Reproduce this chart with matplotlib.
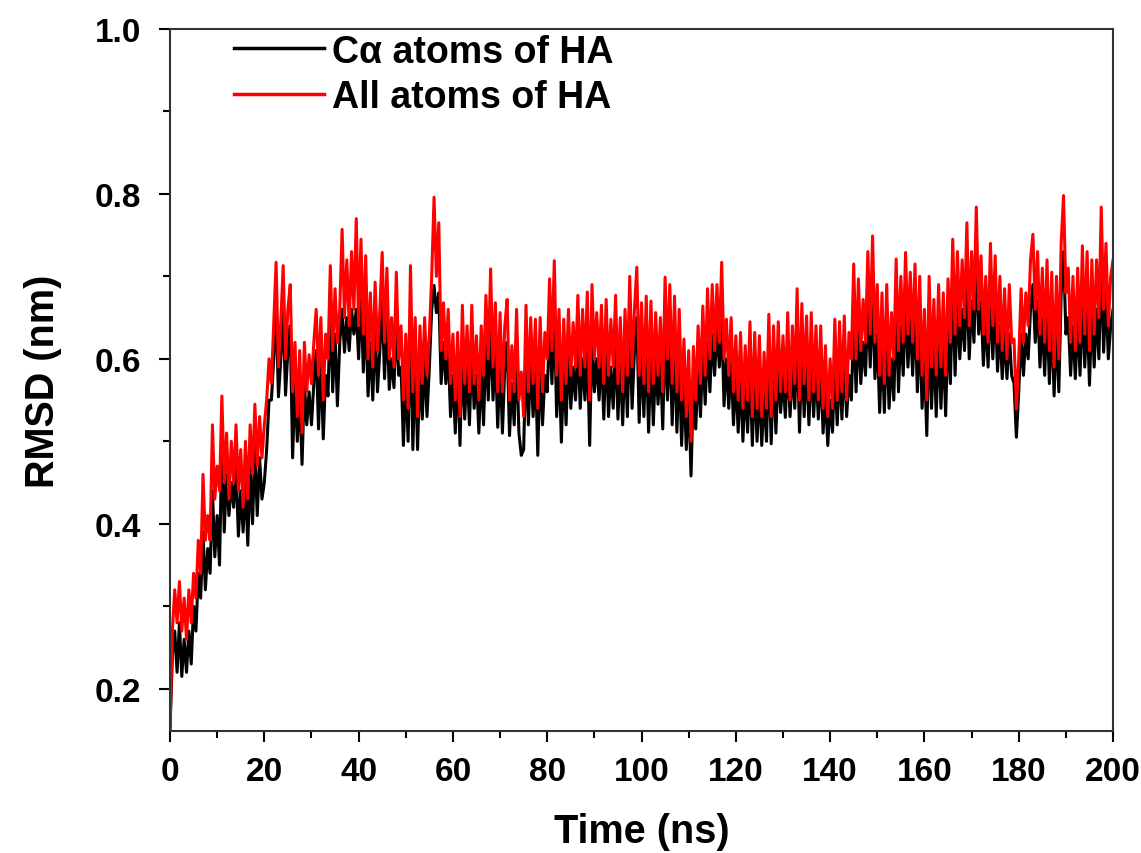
import matplotlib
matplotlib.use("Agg")
import matplotlib.pyplot as plt
from matplotlib.ticker import MultipleLocator
import numpy as np

plt.rcParams['font.family'] = ['Liberation Sans', 'DejaVu Sans']
plt.rcParams['font.weight'] = 'bold'

rmsd_all = [
    0.15, 0.27, 0.32, 0.28, 0.33, 0.27, 0.31, 0.26, 0.32, 0.28, 0.34, 0.31, 0.38, 0.34, 0.46, 0.38, 0.41, 0.38, 0.52, 0.43,
    0.47, 0.44, 0.555, 0.45, 0.51, 0.43, 0.50, 0.45, 0.52, 0.44, 0.49, 0.42, 0.50, 0.43, 0.52, 0.46, 0.545, 0.47, 0.53, 0.48,
    0.52, 0.55, 0.60, 0.57, 0.645, 0.717, 0.59, 0.645, 0.713, 0.60, 0.66, 0.69, 0.56, 0.62, 0.53, 0.61, 0.51, 0.62, 0.56, 0.605,
    0.57, 0.62, 0.66, 0.58, 0.65, 0.55, 0.63, 0.60, 0.713, 0.61, 0.685, 0.62, 0.66, 0.757, 0.65, 0.72, 0.64, 0.73, 0.66, 0.77,
    0.64, 0.745, 0.63, 0.725, 0.60, 0.68, 0.59, 0.693, 0.61, 0.66, 0.729, 0.62, 0.71, 0.60, 0.65, 0.59, 0.705, 0.60, 0.64, 0.55,
    0.63, 0.54, 0.713, 0.56, 0.65, 0.53, 0.64, 0.57, 0.65, 0.58, 0.63, 0.70, 0.796, 0.70, 0.765, 0.61, 0.668, 0.60, 0.66, 0.57,
    0.63, 0.55, 0.632, 0.53, 0.665, 0.57, 0.64, 0.56, 0.665, 0.57, 0.628, 0.55, 0.64, 0.58, 0.677, 0.60, 0.709, 0.59, 0.668, 0.56,
    0.656, 0.56, 0.64, 0.672, 0.55, 0.616, 0.56, 0.66, 0.55, 0.584, 0.53, 0.665, 0.56, 0.65, 0.57, 0.648, 0.54, 0.65, 0.56, 0.632,
    0.60, 0.697, 0.61, 0.719, 0.58, 0.66, 0.55, 0.648, 0.57, 0.66, 0.58, 0.644, 0.59, 0.677, 0.58, 0.66, 0.59, 0.681, 0.55, 0.69,
    0.60, 0.656, 0.59, 0.665, 0.57, 0.672, 0.58, 0.648, 0.59, 0.677, 0.57, 0.65, 0.56, 0.66, 0.58, 0.70, 0.59, 0.66, 0.711, 0.58,
    0.668, 0.57, 0.676, 0.56, 0.67, 0.57, 0.656, 0.58, 0.65, 0.56, 0.699, 0.60, 0.69, 0.57, 0.676, 0.56, 0.66, 0.55, 0.624, 0.53,
    0.61, 0.50, 0.615, 0.55, 0.64, 0.57, 0.664, 0.58, 0.685, 0.60, 0.69, 0.61, 0.69, 0.62, 0.717, 0.60, 0.648, 0.58, 0.65, 0.56,
    0.628, 0.55, 0.632, 0.54, 0.616, 0.55, 0.645, 0.53, 0.632, 0.54, 0.628, 0.53, 0.608, 0.54, 0.654, 0.53, 0.64, 0.55, 0.645, 0.56,
    0.628, 0.56, 0.656, 0.55, 0.64, 0.57, 0.685, 0.55, 0.667, 0.57, 0.652, 0.55, 0.656, 0.56, 0.64, 0.55, 0.64, 0.54, 0.616, 0.53,
    0.60, 0.54, 0.648, 0.55, 0.645, 0.56, 0.652, 0.55, 0.632, 0.60, 0.715, 0.60, 0.697, 0.61, 0.672, 0.62, 0.73, 0.63, 0.749, 0.62,
    0.69, 0.58, 0.68, 0.57, 0.69, 0.58, 0.656, 0.60, 0.721, 0.61, 0.70, 0.62, 0.729, 0.63, 0.705, 0.62, 0.715, 0.60, 0.70, 0.58,
    0.66, 0.55, 0.70, 0.59, 0.672, 0.58, 0.69, 0.59, 0.68, 0.58, 0.697, 0.62, 0.745, 0.63, 0.73, 0.64, 0.72, 0.65, 0.765, 0.64,
    0.73, 0.66, 0.784, 0.66, 0.725, 0.63, 0.70, 0.62, 0.74, 0.64, 0.725, 0.62, 0.70, 0.61, 0.685, 0.60, 0.69, 0.62, 0.624, 0.539,
    0.60, 0.685, 0.62, 0.68, 0.64, 0.72, 0.751, 0.66, 0.73, 0.63, 0.71, 0.62, 0.72, 0.61, 0.705, 0.59, 0.70, 0.60, 0.74, 0.798,
    0.68, 0.71, 0.62, 0.70, 0.61, 0.71, 0.62, 0.737, 0.63, 0.73, 0.61, 0.72, 0.63, 0.72, 0.65, 0.784, 0.66, 0.74, 0.64, 0.70, 0.72,
]

rmsd_ca = [
    0.15, 0.24, 0.27, 0.22, 0.28, 0.215, 0.26, 0.22, 0.27, 0.23, 0.30, 0.27, 0.34, 0.31, 0.39, 0.32, 0.37, 0.34, 0.44, 0.36,
    0.41, 0.35, 0.50, 0.39, 0.46, 0.41, 0.45, 0.42, 0.47, 0.385, 0.44, 0.39, 0.45, 0.374, 0.47, 0.40, 0.49, 0.41, 0.48, 0.43,
    0.45, 0.49, 0.55, 0.55, 0.60, 0.66, 0.554, 0.60, 0.66, 0.556, 0.61, 0.64, 0.48, 0.57, 0.50, 0.56, 0.472, 0.57, 0.52, 0.56,
    0.52, 0.57, 0.61, 0.515, 0.60, 0.503, 0.58, 0.555, 0.66, 0.56, 0.63, 0.543, 0.62, 0.66, 0.608, 0.65, 0.61, 0.66, 0.63, 0.66,
    0.60, 0.68, 0.584, 0.66, 0.555, 0.62, 0.55, 0.64, 0.56, 0.61, 0.67, 0.576, 0.65, 0.563, 0.60, 0.565, 0.65, 0.58, 0.59, 0.495,
    0.58, 0.50, 0.65, 0.49, 0.60, 0.49, 0.59, 0.527, 0.60, 0.53, 0.59, 0.66, 0.689, 0.656, 0.68, 0.57, 0.62, 0.57, 0.61, 0.53,
    0.58, 0.51, 0.59, 0.495, 0.61, 0.527, 0.59, 0.52, 0.61, 0.54, 0.58, 0.51, 0.59, 0.52, 0.62, 0.55, 0.64, 0.55, 0.61, 0.517,
    0.60, 0.51, 0.59, 0.62, 0.507, 0.57, 0.52, 0.61, 0.51, 0.483, 0.49, 0.61, 0.52, 0.60, 0.53, 0.59, 0.483, 0.60, 0.52, 0.58,
    0.56, 0.64, 0.57, 0.66, 0.53, 0.60, 0.499, 0.59, 0.52, 0.61, 0.54, 0.59, 0.55, 0.62, 0.54, 0.60, 0.55, 0.62, 0.495, 0.63,
    0.56, 0.60, 0.55, 0.61, 0.527, 0.62, 0.53, 0.59, 0.54, 0.62, 0.527, 0.60, 0.52, 0.61, 0.53, 0.64, 0.54, 0.61, 0.65, 0.523,
    0.61, 0.53, 0.62, 0.511, 0.61, 0.52, 0.60, 0.545, 0.60, 0.515, 0.64, 0.55, 0.63, 0.52, 0.62, 0.511, 0.60, 0.495, 0.57, 0.49,
    0.56, 0.458, 0.57, 0.515, 0.59, 0.53, 0.61, 0.545, 0.62, 0.56, 0.63, 0.58, 0.64, 0.59, 0.65, 0.543, 0.60, 0.54, 0.60, 0.52,
    0.58, 0.511, 0.58, 0.50, 0.57, 0.511, 0.59, 0.495, 0.58, 0.50, 0.57, 0.495, 0.56, 0.50, 0.60, 0.497, 0.59, 0.51, 0.59, 0.535,
    0.58, 0.529, 0.60, 0.53, 0.59, 0.54, 0.63, 0.511, 0.61, 0.53, 0.60, 0.52, 0.60, 0.53, 0.59, 0.527, 0.59, 0.51, 0.56, 0.495,
    0.55, 0.511, 0.59, 0.52, 0.59, 0.527, 0.60, 0.53, 0.58, 0.55, 0.65, 0.56, 0.64, 0.57, 0.62, 0.58, 0.67, 0.59, 0.68, 0.576,
    0.63, 0.535, 0.62, 0.535, 0.63, 0.54, 0.60, 0.55, 0.66, 0.56, 0.64, 0.58, 0.67, 0.59, 0.65, 0.58, 0.66, 0.56, 0.64, 0.54,
    0.60, 0.507, 0.64, 0.54, 0.62, 0.53, 0.63, 0.54, 0.62, 0.531, 0.64, 0.57, 0.69, 0.58, 0.67, 0.60, 0.66, 0.61, 0.70, 0.60,
    0.67, 0.62, 0.72, 0.63, 0.67, 0.592, 0.65, 0.59, 0.68, 0.60, 0.67, 0.585, 0.64, 0.576, 0.63, 0.576, 0.63, 0.58, 0.57, 0.505,
    0.56, 0.63, 0.58, 0.63, 0.60, 0.66, 0.69, 0.62, 0.67, 0.59, 0.65, 0.58, 0.66, 0.57, 0.65, 0.555, 0.64, 0.56, 0.68, 0.73,
    0.63, 0.65, 0.58, 0.64, 0.576, 0.65, 0.58, 0.67, 0.59, 0.66, 0.568, 0.66, 0.59, 0.66, 0.60, 0.72, 0.608, 0.68, 0.60, 0.64, 0.66,
]

labels = ['C\u03b1 atoms of HA', 'All atoms of HA']

t_ca = np.linspace(0, 200, len(rmsd_ca))
t_all = np.linspace(0, 200, len(rmsd_all))

fig = plt.figure(figsize=(11.41, 8.54), dpi=100)
ax = fig.add_axes([0.149, 0.143, 0.8265, 0.822])

ax.plot(t_ca, rmsd_ca, color='black', lw=2.2, label=labels[0])
ax.plot(t_all, rmsd_all, color='#ff0000', lw=2.2, label=labels[1])

ax.set_xlim(0, 200)
ax.set_ylim(0.149, 1.0)
ax.xaxis.set_major_locator(MultipleLocator(20))
ax.xaxis.set_minor_locator(MultipleLocator(10))
ax.yaxis.set_minor_locator(MultipleLocator(0.1))
ax.set_yticks([0.2, 0.4, 0.6, 0.8, 1.0])
ax.set_yticklabels(['0.2', '0.4', '0.6', '0.8', '1.0'])

ax.tick_params(which='major', direction='out', length=8, width=1.5, labelsize=24)
ax.tick_params(which='minor', direction='out', length=5, width=1.5)
ax.tick_params(axis='x', pad=10)
ax.tick_params(axis='y', pad=13)
for s in ax.spines.values():
    s.set_linewidth(1.5)
    s.set_color('#333333')

ax.set_xlabel('Time (ns)', fontsize=28.5, fontweight='bold', labelpad=18)
ax.set_ylabel('RMSD (nm)', fontsize=28.5, fontweight='bold', labelpad=23)

leg = ax.legend(loc='upper left', bbox_to_anchor=(0.048, 1.02), frameon=False,
                fontsize=27, handlelength=2.4, handletextpad=0.2, labelspacing=0.25,
                borderpad=0)
for line in leg.get_lines():
    line.set_linewidth(2.5)

fig.savefig('out.png', dpi=100)
